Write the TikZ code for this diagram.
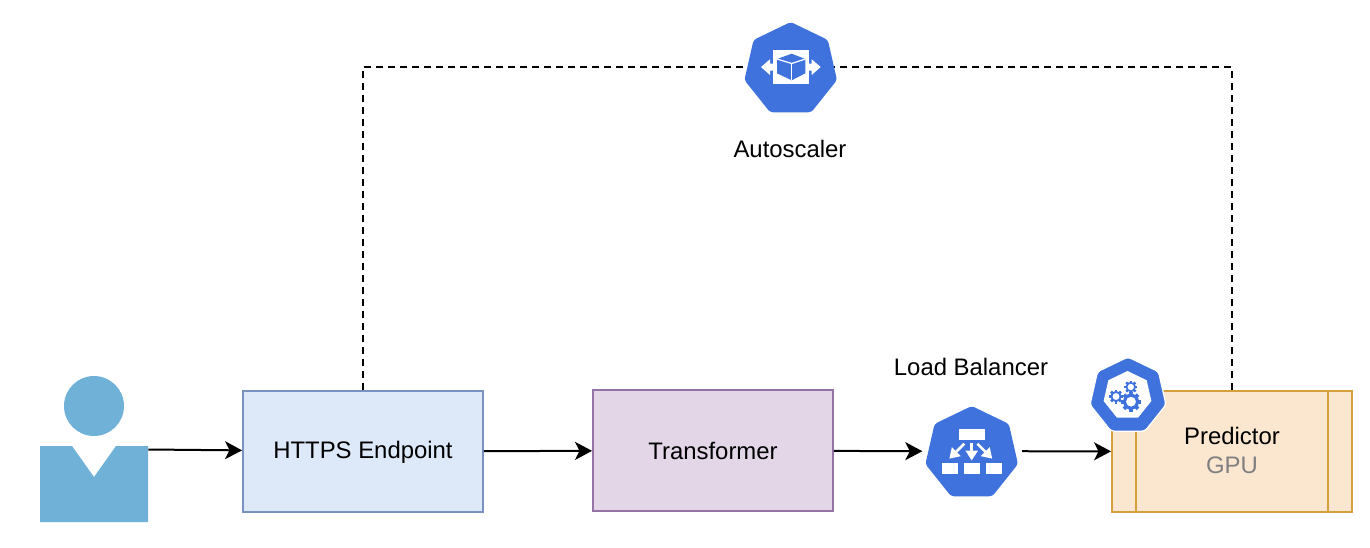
\documentclass[tikz,border=0pt]{standalone}
\usepackage{fontspec}
\setmainfont{Liberation Sans}
\usepackage{tikz}
\usetikzlibrary{arrows.meta,shapes.geometric}

\definecolor{kubeblue}{HTML}{3F72DC}
\definecolor{userblue}{HTML}{70B2D7}
\definecolor{httpsfill}{HTML}{DDE8F9}
\definecolor{httpsline}{HTML}{7A92C0}
\definecolor{transfill}{HTML}{E2D6E7}
\definecolor{transline}{HTML}{9673A6}
\definecolor{predfill}{HTML}{FBE6D0}
\definecolor{predline}{HTML}{D6A03C}

\tikzset{
    box/.style={draw, line width=0.04cm, minimum width=4.8cm, minimum height=2.42cm, inner sep=0pt},
    kube/.style={regular polygon, regular polygon sides=7, fill=kubeblue, inner sep=0pt, outer sep=0pt, rounded corners=0.06cm},
    flow/.style={line width=0.04cm, -{Stealth[length=0.34cm,width=0.36cm,inset=0.09cm]}},
    scaling/.style={line width=0.035cm, dash pattern=on 0.14cm off 0.10cm},
    caption/.style={font=\fontsize{13.6}{16}\selectfont, inner sep=0pt},
    iconarrow/.style={white, line width=0.05cm, -{Triangle[length=0.2cm,width=0.24cm]}}
}

\newcommand{\smallgear}[3]{
    \foreach \a in {0,45,...,315}
        \draw[kubeblue, line width=#3*0.075mm] (#1,#2) -- ++(\a:#3);
    \fill[kubeblue] (#1,#2) circle ({#3*0.016cm});
    \fill[white] (#1,#2) circle ({#3*0.0098cm});
}

\begin{document}
\begin{tikzpicture}[x=0.02cm,y=-0.02cm]
    \useasboundingbox (0,0) rectangle (1370,548);

    % user
    \node[minimum width=2.16cm, minimum height=2.92cm, inner sep=0pt] (user) at (94,449) {};
    \fill[userblue] (94,406) circle (0.6cm);
    \fill[userblue] (40,446) -- (72,446) -- (94,477) -- (116,446) -- (148,446) -- (148,522) -- (40,522) -- cycle;

    % boxes
    \node[box, fill=httpsfill, draw=httpsline, caption, text depth=0.08cm] (https) at (363,451.5) {HTTPS Endpoint};
    \node[box, fill=transfill, draw=transline, caption] (transformer) at (713,450.5) {Transformer};
    \node[box, fill=predfill, draw=predline] (predictor) at (1232,451.5) {};
    \draw[predline, line width=0.04cm] (1136,391) -- (1136,512);
    \draw[predline, line width=0.04cm] (1328,391) -- (1328,512);
    \node[caption] (predname) at (1232,436) {Predictor};
    \node[caption, text=black!50] (gpu) at (1232,465) {GPU};

    % autoscaler
    \node[kube, minimum size=1.9cm] (autoscaler) at (790.7,69.5) {};
    \fill[white] (773,50) rectangle (809,83.7);
    \fill[white] (773,63.5) -- (770,63.5) -- (770,59.3) -- (761,67) -- (770,75) -- (770,70.7) -- (773,70.7) -- cycle;
    \fill[white] (809,63.5) -- (811.7,63.5) -- (811.7,59.3) -- (820.7,67) -- (811.7,75) -- (811.7,70.7) -- (809,70.7) -- cycle;
    \fill[kubeblue] (791.7,53.7) -- (805.3,59) -- (805.3,73.3) -- (791.7,80.3) -- (777,73.3) -- (777,59) -- cycle;
    \draw[white, line width=0.025cm] (777,59) -- (791.7,63.5) -- (805.3,59);
    \draw[white, line width=0.025cm] (791.7,63.5) -- (791.7,80.3);
    \node[caption] (autoname) at (790,149) {Autoscaler};

    % load balancer
    \node[kube, minimum size=1.9cm] (balancer) at (971.7,453.5) {};
    \fill[white] (959,429.3) rectangle (985,440);
    \fill[white] (942,462.7) rectangle (958,473.7);
    \fill[white] (964,462.7) rectangle (980,473.7);
    \fill[white] (986,462.7) rectangle (1002,473.7);
    \draw[iconarrow] (971.7,443) -- (971.7,460.5);
    \draw[iconarrow] (964.3,443.7) -- (949.3,458.7);
    \draw[iconarrow] (977.3,443.7) -- (992.3,458.7);
    \node[caption] (balname) at (971,367) {Load Balancer};

    % predictor icon
    \node[kube, draw=white, line width=0.025cm, minimum size=1.56cm] (pods) at (1128,396) {};
    \node[regular polygon, regular polygon sides=7, fill=white, inner sep=0pt, minimum size=0.98cm] (podsinner) at (1127.5,395.5) {};
    \smallgear{1116}{396.5}{7}
    \smallgear{1130.8}{387}{6.5}
    \smallgear{1131}{401.7}{10}

    % connectors
    \draw[flow] (user) -- (https);
    \draw[flow] (https) -- (transformer);
    \draw[flow, shorten >=0.12cm] (transformer) -- (balancer.177);
    \draw[flow, shorten <=0.14cm] (balancer.3) -- (predictor);
    \draw[scaling] (https.north) |- (autoscaler.177);
    \draw[scaling] (predictor.north) |- (autoscaler.3);
\end{tikzpicture}
\end{document}
